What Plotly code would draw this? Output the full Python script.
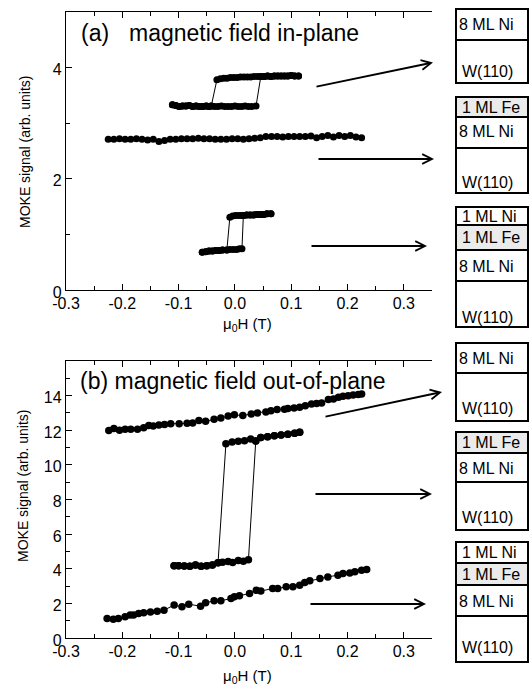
import plotly.graph_objects as go

W, H = 531, 685
FONT = "Liberation Sans, Arial, Helvetica, sans-serif"

# ---------------- data ----------------
# Panel (a): field in-plane
# top loop: 8 ML Ni / W(110)
a1_lo_x = [-0.111, -0.105, -0.099, -0.093, -0.087, -0.081, -0.075, -0.069, -0.063, -0.057,
           -0.051, -0.046, -0.042, -0.036, -0.030, -0.024, -0.018, -0.012, -0.006, 0.000,
           0.006, 0.012, 0.018, 0.024, 0.030, 0.0375]
a1_lo_y = [3.33, 3.32, 3.30, 3.31, 3.31, 3.32, 3.30, 3.31, 3.30, 3.30,
           3.31, 3.30, 3.31, 3.30, 3.30, 3.31, 3.30, 3.30, 3.30, 3.31,
           3.30, 3.30, 3.31, 3.30, 3.30, 3.31]
a1_up_x = [-0.032, -0.026, -0.020, -0.014, -0.008, -0.002, 0.004, 0.010, 0.016, 0.022,
           0.028, 0.034, 0.040, 0.046, 0.052, 0.058, 0.064, 0.070, 0.076, 0.082,
           0.088, 0.094, 0.100, 0.106, 0.113]
a1_up_y = [3.78, 3.80, 3.81, 3.81, 3.82, 3.82, 3.82, 3.83, 3.83, 3.83,
           3.83, 3.84, 3.84, 3.84, 3.84, 3.85, 3.84, 3.85, 3.85, 3.85,
           3.85, 3.85, 3.86, 3.85, 3.85]
a1_switch = [-0.042, 0.045]

# middle: 1 ML Fe / 8 ML Ni / W(110)
a2_x = [-0.225, -0.215, -0.205, -0.195, -0.185, -0.175, -0.165, -0.155, -0.145, -0.135,
        -0.125, -0.115, -0.105, -0.095, -0.085, -0.075, -0.065, -0.055, -0.045, -0.035,
        -0.025, -0.015, -0.005, 0.005, 0.015, 0.025, 0.035, 0.045, 0.055, 0.065,
        0.075, 0.085, 0.095, 0.105, 0.115, 0.125, 0.135, 0.145, 0.155, 0.165,
        0.175, 0.185, 0.195, 0.205, 0.215, 0.225]
a2_y = [2.71, 2.71, 2.72, 2.71, 2.71, 2.72, 2.71, 2.70, 2.71, 2.67,
        2.69, 2.71, 2.71, 2.72, 2.72, 2.72, 2.73, 2.72, 2.72, 2.71,
        2.71, 2.71, 2.72, 2.72, 2.71, 2.72, 2.73, 2.74, 2.76, 2.76,
        2.76, 2.75, 2.76, 2.76, 2.76, 2.76, 2.77, 2.74, 2.76, 2.78,
        2.75, 2.78, 2.76, 2.78, 2.75, 2.74]

# bottom loop: 1 ML Ni / 1 ML Fe / 8 ML Ni / W(110)
a3_lo_x = [-0.058, -0.052, -0.046, -0.040, -0.034, -0.028, -0.022, -0.0143, -0.009, -0.003,
           0.003, 0.008, 0.0125]
a3_lo_y = [0.68, 0.69, 0.70, 0.70, 0.71, 0.71, 0.72, 0.72, 0.73, 0.73, 0.73, 0.74, 0.74]
a3_up_x = [-0.009, -0.004, 0.001, 0.006, 0.011, 0.015, 0.021, 0.027, 0.033, 0.039,
           0.045, 0.051, 0.057, 0.064]
a3_up_y = [1.31, 1.33, 1.34, 1.34, 1.34, 1.34, 1.35, 1.35, 1.35, 1.36,
           1.36, 1.36, 1.37, 1.37]
a3_switch = [-0.0143, 0.015]

# Panel (b): field out-of-plane
b1_x = [-0.224, -0.215, -0.205, -0.195, -0.185, -0.173, -0.162, -0.153, -0.145, -0.135,
        -0.125, -0.114, -0.099, -0.085, -0.075, -0.064, -0.052, -0.037, -0.025, -0.012,
        -0.001, 0.014, 0.029, 0.040, 0.055, 0.064, 0.075, 0.088, 0.094, 0.105,
        0.115, 0.125, 0.136, 0.145, 0.154, 0.166, 0.175, 0.184, 0.192, 0.201,
        0.210, 0.219, 0.225]
b1_y = [11.98, 12.10, 12.00, 12.06, 12.06, 12.06, 12.14, 12.27, 12.25, 12.31,
        12.33, 12.37, 12.37, 12.40, 12.42, 12.56, 12.52, 12.64, 12.71, 12.83,
        12.89, 12.85, 12.94, 13.00, 13.06, 13.13, 13.20, 13.21, 13.25, 13.28,
        13.33, 13.42, 13.52, 13.55, 13.58, 13.77, 13.81, 13.90, 13.96, 14.00,
        14.04, 14.06, 14.09]

b2_lo_x = [-0.108, -0.100, -0.090, -0.080, -0.070, -0.060, -0.050, -0.040, -0.030, -0.022,
           -0.012, -0.004, 0.006, 0.015, 0.024]
b2_lo_y = [4.17, 4.18, 4.16, 4.15, 4.22, 4.15, 4.18, 4.22, 4.35, 4.38,
           4.42, 4.36, 4.48, 4.44, 4.52]
b2_up_x = [-0.016, -0.005, 0.006, 0.017, 0.028, 0.037, 0.046, 0.058, 0.070, 0.082,
           0.094, 0.106, 0.115]
b2_up_y = [11.22, 11.32, 11.36, 11.40, 11.50, 11.38, 11.58, 11.62, 11.68, 11.72,
           11.77, 11.82, 11.88]
b2_switch = [-0.030, 0.037]

b3_x = [-0.227, -0.216, -0.207, -0.195, -0.186, -0.180, -0.171, -0.162, -0.150, -0.138,
        -0.126, -0.108, -0.094, -0.082, -0.061, -0.052, -0.037, -0.025, -0.007, -0.001,
        0.008, 0.026, 0.038, 0.046, 0.067, 0.076, 0.091, 0.103, 0.115, 0.124,
        0.133, 0.151, 0.165, 0.183, 0.192, 0.204, 0.213, 0.225, 0.234]
b3_y = [1.13, 1.08, 1.13, 1.23, 1.33, 1.33, 1.42, 1.46, 1.50, 1.55,
        1.61, 1.90, 1.80, 1.95, 1.84, 2.03, 2.15, 2.15, 2.28, 2.38,
        2.44, 2.57, 2.76, 2.71, 2.86, 2.86, 2.96, 2.96, 3.05, 3.21,
        3.30, 3.44, 3.53, 3.63, 3.72, 3.76, 3.82, 3.91, 3.95]

x_ticks = [-0.3, -0.2, -0.1, 0.0, 0.1, 0.2, 0.3]
x_tick_text = ["-0.3", "-0.2", "-0.1", "0.0", "0.1", "0.2", "0.3"]
ya_ticks = [0, 2, 4]
yb_ticks = [0, 2, 4, 6, 8, 10, 12, 14]

# layer stacks (label, fill) from top to bottom
stack_labels = [
    [("8 ML Ni", "white"), ("W(110)", "white")],
    [("1 ML Fe", "#ebebeb"), ("8 ML Ni", "white"), ("W(110)", "white")],
    [("1 ML Ni", "white"), ("1 ML Fe", "#ebebeb"), ("8 ML Ni", "white"), ("W(110)", "white")],
]


# ---------------- helpers ----------------
def loop_sweeps(lo_x, lo_y, up_x, up_y, sw):
    """Return descending and ascending field sweeps of a hysteresis loop."""
    desc_x = list(reversed(up_x)) + [x for x in reversed(lo_x) if x <= sw[0]]
    desc_y = list(reversed(up_y)) + [y for x, y in zip(reversed(lo_x), reversed(lo_y)) if x <= sw[0]]
    asc_x = list(lo_x) + [x for x in up_x if x >= sw[1]]
    asc_y = list(lo_y) + [y for x, y in zip(up_x, up_y) if x >= sw[1]]
    return (desc_x, desc_y), (asc_x, asc_y)


def px(x):
    return x / W


def py(y):
    return 1 - y / H


fig = go.Figure()


def add_curve(x, y, xa, ya, msize):
    fig.add_trace(go.Scatter(
        x=x, y=y, xaxis=xa, yaxis=ya, mode="lines+markers",
        line=dict(color="black", width=1),
        marker=dict(color="black", size=msize),
        showlegend=False, hoverinfo="skip"))


for lo_x, lo_y, up_x, up_y, sw in [(a1_lo_x, a1_lo_y, a1_up_x, a1_up_y, a1_switch),
                                   (a3_lo_x, a3_lo_y, a3_up_x, a3_up_y, a3_switch)]:
    for sx, sy in loop_sweeps(lo_x, lo_y, up_x, up_y, sw):
        add_curve(sx, sy, "x", "y", 7)
add_curve(a2_x, a2_y, "x", "y", 7)

add_curve(b1_x, b1_y, "x2", "y2", 7.5)
add_curve(b3_x, b3_y, "x2", "y2", 7.5)
for sx, sy in loop_sweeps(b2_lo_x, b2_lo_y, b2_up_x, b2_up_y, b2_switch):
    add_curve(sx, sy, "x2", "y2", 7.5)

# ---------------- axes ----------------
common = dict(showline=True, linecolor="black", linewidth=1.3, ticks="inside",
              ticklen=6, tickwidth=1.2, tickcolor="black", showgrid=False,
              zeroline=False, automargin=False,
              tickfont=dict(family=FONT, size=16, color="black"))
xminor = dict(tickmode="linear", tick0=-0.3, dtick=0.05, ticks="inside",
              ticklen=3.5, tickwidth=1.2, tickcolor="black", showgrid=False)

xdom = [px(66), px(432)]
fig.update_layout(
    width=W, height=H, margin=dict(l=0, r=0, t=0, b=0),
    paper_bgcolor="white", plot_bgcolor="white",
    font=dict(family=FONT, color="black"),
    xaxis=dict(domain=xdom, range=[-0.3, 0.35], anchor="y", mirror="ticks",
               tickmode="array", tickvals=x_ticks, ticktext=x_tick_text,
               ticklabelstandoff=-1, minor=xminor, **common),
    yaxis=dict(domain=[py(290), py(12)], range=[0, 5], anchor="x",
               tickmode="array", tickvals=ya_ticks, ticklabelshift=2,
               minor=dict(tickmode="linear", tick0=0, dtick=1, ticks="inside",
                          ticklen=3.5, tickwidth=1.2, tickcolor="black", showgrid=False),
               **common),
    xaxis2=dict(domain=xdom, range=[-0.3, 0.35], anchor="y2", mirror="ticks",
                tickmode="array", tickvals=x_ticks, ticktext=x_tick_text,
                ticklabelstandoff=-1, minor=xminor, **common),
    yaxis2=dict(domain=[py(638), py(361)], range=[0, 16], anchor="x2",
                tickmode="array", tickvals=yb_ticks, ticklabelshift=2,
                minor=dict(tickmode="linear", tick0=0, dtick=1, ticks="inside",
                           ticklen=3.5, tickwidth=1.2, tickcolor="black", showgrid=False),
                **common),
)

ann = []


def text(x, y, s, size, xanchor="left", angle=0):
    ann.append(dict(x=px(x), y=py(y), xref="paper", yref="paper", text=s,
                    showarrow=False, xanchor=xanchor, yanchor="middle",
                    textangle=angle, font=dict(family=FONT, size=size, color="black")))


# panel labels
text(79, 33, "(a)", 23)
text(127, 33, "magnetic field in-plane", 23)
text(78, 381, "(b) magnetic field out-of-plane", 23)
# axis titles
text(247, 324, "μ<sub>0</sub>H (T)", 15, "center")
text(247, 676, "μ<sub>0</sub>H (T)", 15, "center")
text(25, 152, "MOKE signal (arb. units)", 14, "center", -90)
text(23, 486, "MOKE signal (arb. units)", 14, "center", -90)

# arrows (head -> tail in pixels)
arrows = [((433, 62.5), (315, 87)), ((434, 159), (317, 159)), ((427, 246), (310, 246)),
          ((442, 392), (324, 417)), ((432, 494), (314, 494)), ((426, 604), (309, 604))]
for (hx, hy), (tx, ty) in arrows:
    ann.append(dict(x=px(hx), y=py(hy), xref="paper", yref="paper", text="",
                    showarrow=True, ax=tx - hx, ay=ty - hy, axref="pixel", ayref="pixel",
                    arrowhead=5, arrowsize=1.0, arrowwidth=1.9, arrowcolor="black",
                    standoff=0))

# layer stacks: (top, bottom) pixel boundaries of each layer, text centres
stack_geom = [
    ([9, 40, 83], [24, 72]),
    ([97, 117, 148, 193], [107, 132, 182]),
    ([207, 225, 250, 281, 327], [216, 238, 266, 317]),
    ([343, 373, 421], [358, 408]),
    ([432, 453, 482, 530], [442, 468, 517]),
    ([542, 563, 585, 616, 662], [552, 574, 601, 647]),
]
stack_kind = [0, 1, 2, 0, 1, 2]
shapes = []
x0, x1 = 456, 528
for (bounds, tys), k in zip(stack_geom, stack_kind):
    labels = stack_labels[k]
    for i, (lab, fill) in enumerate(labels):
        shapes.append(dict(type="rect", xref="paper", yref="paper",
                           x0=px(x0), x1=px(x1), y0=py(bounds[i + 1]), y1=py(bounds[i]),
                           fillcolor=fill, line=dict(color="black", width=2), layer="above"))
        lx = x0 + 1 if lab == "8 ML Ni" else x0 + 4
        text(lx, tys[i], lab, 16)

fig.update_layout(annotations=ann, shapes=shapes)
fig.write_html("out.html")
